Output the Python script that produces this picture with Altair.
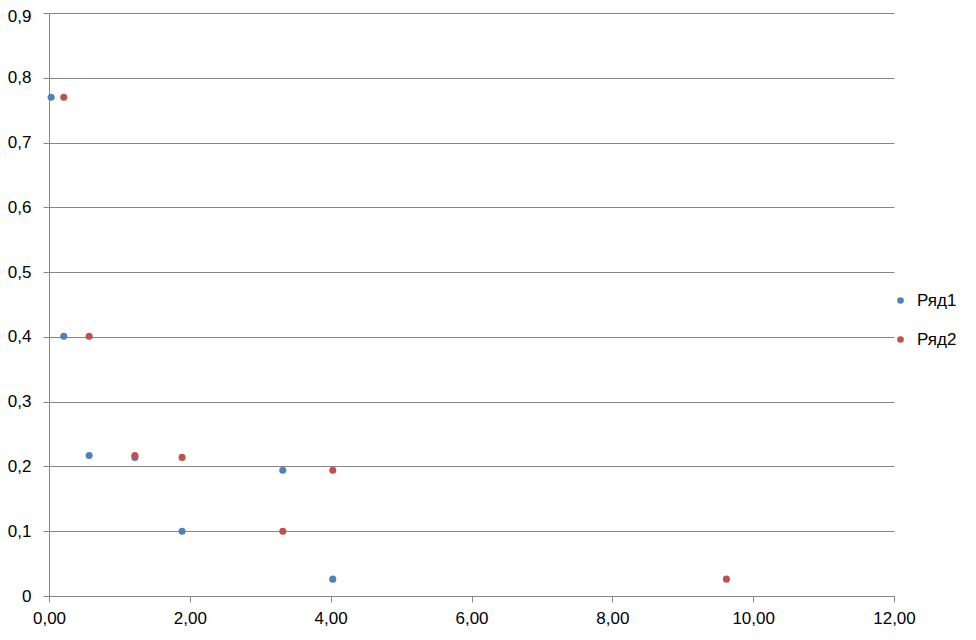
import altair as alt
import pandas as pd

series1_x = [0.03, 0.21, 0.57, 1.22, 1.89, 3.32, 4.03]
series1_y = [0.770, 0.401, 0.217, 0.214, 0.100, 0.194, 0.026]
series2_x = [0.21, 0.57, 1.22, 1.89, 3.32, 4.03, 9.62]
series2_y = [0.770, 0.401, 0.217, 0.214, 0.100, 0.194, 0.026]
series_names = ["Ряд1", "Ряд2"]
x_ticks = [0, 2, 4, 6, 8, 10, 12]
y_ticks = [0, 0.1, 0.2, 0.3, 0.4, 0.5, 0.6, 0.7, 0.8, 0.9]

rows = []
for xv, yv in zip(series1_x, series1_y):
    rows.append({"x": xv, "y": yv, "series": series_names[0]})
for xv, yv in zip(series2_x, series2_y):
    rows.append({"x": xv, "y": yv, "series": series_names[1]})
df = pd.DataFrame(rows)

font = "Liberation Sans"
grid = "#868686"

chart = alt.Chart(df).mark_circle(size=50, opacity=1).encode(
    x=alt.X("x:Q",
            scale=alt.Scale(domain=[0, 12], nice=False, zero=False),
            axis=alt.Axis(values=x_ticks, title=None, grid=False, labelFlush=False,
                          labelExpr="replace(format(datum.value, '.2f'), '.', ',')",
                          tickSize=6, labelPadding=8, domainColor=grid, tickColor=grid,
                          labelFont=font, labelFontSize=17, labelColor="#000000")),
    y=alt.Y("y:Q",
            scale=alt.Scale(domain=[0, 0.9], nice=False),
            axis=alt.Axis(values=y_ticks, title=None, grid=True, gridColor=grid,
                          gridOpacity=1, gridWidth=1, labelFlush=False,
                          labelOffset={"condition": {"test": "datum.value > 0.85", "value": 3}, "value": 0},
                          labelExpr="datum.value == 0 ? '0' : replace(format(datum.value, '.1f'), '.', ',')",
                          tickSize=6, labelPadding=12, domainColor=grid, tickColor=grid,
                          labelFont=font, labelFontSize=17, labelColor="#000000")),
    color=alt.Color("series:N",
                    scale=alt.Scale(domain=series_names, range=["#4F81BD", "#C0504D"]),
                    legend=alt.Legend(title=None, orient="none", legendX=843, legendY=279,
                                      symbolType="circle", symbolSize=44, padding=0,
                                      labelOffset=8, rowPadding=21,
                                      labelFont=font, labelFontSize=17, labelColor="#000000",
                                      symbolStrokeWidth=0)),
).properties(
    width=845,
    height=583,
    autosize=alt.AutoSizeParams(type="none"),
    padding={"left": 41, "top": 5, "right": 70, "bottom": 32},
    background="#ffffff",
).configure_view(stroke=None)

chart.save("out.html", embed_options={"renderer": "svg", "actions": False})
